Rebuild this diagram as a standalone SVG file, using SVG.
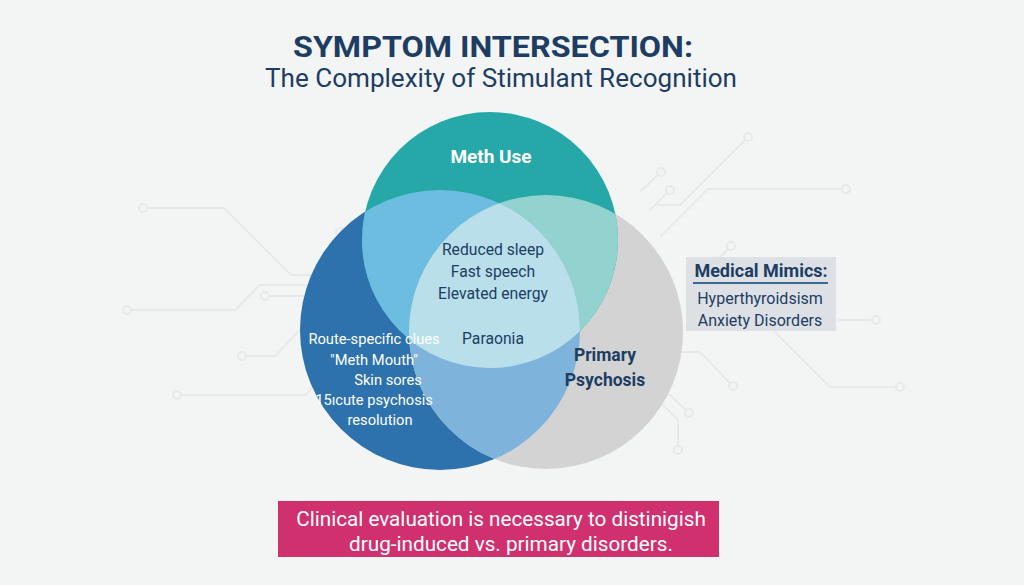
<svg xmlns="http://www.w3.org/2000/svg" width="1024" height="585" viewBox="0 0 1024 585">
<style>
.bg{fill:#f3f4f4}
.circ{fill:none;stroke:#e7e9ea;stroke-width:2}
.dot{fill:#f3f4f4;stroke:#e7e9ea;stroke-width:2}
.f{font-family:Roboto,"Liberation Sans",Arial,sans-serif}
.navy{fill:#1d3d63}
.white{fill:#ffffff}
</style>
<defs>
<clipPath id="cT"><circle cx="490" cy="240" r="128"/></clipPath>
<clipPath id="cL"><circle cx="440" cy="330" r="140"/></clipPath>
</defs>
<rect class="bg" x="0" y="0" width="1024" height="585"/>
<g id="circuits">
<path class="circ" d="M143,208 H224 L291,275 H320"/>
<path class="circ" d="M127,310 H235 L260,285 H312"/>
<path class="circ" d="M265,296 H312"/>
<path class="circ" d="M242,356 H275 L300,330 H312"/>
<path class="circ" d="M177,395 H305 L318,382"/>
<path class="circ" d="M748,137 L680,205 H655"/>
<path class="circ" d="M661,172 L640,192"/>
<path class="circ" d="M670,190 L650,210"/>
<path class="circ" d="M846,189 H708 L660,237"/>
<path class="circ" d="M731,246 L715,262"/>
<path class="circ" d="M876,320 H838"/>
<path class="circ" d="M775,332 L830,387 H900"/>
<path class="circ" d="M733,386 L700,352 H680"/>
<path class="circ" d="M689,413 L670,395 H662"/>
<path class="circ" d="M678,450 V420 L660,402"/>
<circle class="dot" cx="143" cy="208" r="4"/>
<circle class="dot" cx="127" cy="310" r="4"/>
<circle class="dot" cx="265" cy="296" r="4"/>
<circle class="dot" cx="242" cy="356" r="4"/>
<circle class="dot" cx="177" cy="395" r="4"/>
<circle class="dot" cx="340" cy="232" r="4"/>
<circle class="dot" cx="748" cy="137" r="4"/>
<circle class="dot" cx="661" cy="172" r="4"/>
<circle class="dot" cx="670" cy="190" r="4"/>
<circle class="dot" cx="846" cy="189" r="4"/>
<circle class="dot" cx="731" cy="246" r="4"/>
<circle class="dot" cx="876" cy="320" r="4"/>
<circle class="dot" cx="900" cy="387" r="4"/>
<circle class="dot" cx="733" cy="386" r="4"/>
<circle class="dot" cx="689" cy="413" r="4"/>
<circle class="dot" cx="678" cy="450" r="4"/>
</g>
<g id="title">
<text class="f navy" x="493" y="57" font-size="30" font-weight="bold" text-anchor="middle" textLength="400" lengthAdjust="spacingAndGlyphs">SYMPTOM INTERSECTION:</text>
<text class="f navy" x="501" y="87" font-size="25" text-anchor="middle" textLength="472" lengthAdjust="spacingAndGlyphs">The Complexity of Stimulant Recognition</text>
</g>
<g id="venn">
<circle cx="440" cy="330" r="140" fill="#2d72ad"/>
<circle cx="546" cy="332" r="137" fill="#d3d3d3"/>
<circle cx="490" cy="240" r="128" fill="#27a8a8"/>
<circle cx="440" cy="330" r="140" fill="#6cbde0" clip-path="url(#cT)"/>
<circle cx="546" cy="332" r="137" fill="#92d2cf" clip-path="url(#cT)"/>
<circle cx="546" cy="332" r="137" fill="#7eb3db" clip-path="url(#cL)"/>
<g clip-path="url(#cT)"><circle cx="546" cy="332" r="137" fill="#b9e0ea" clip-path="url(#cL)"/></g>
</g>
<g id="meth-use">
<text class="f white" x="491" y="163" font-size="19" font-weight="bold" text-anchor="middle">Meth Use</text>
</g>
<g id="primary-psychosis">
<text class="f navy" x="605" y="361" font-size="17.5" font-weight="bold" text-anchor="middle">Primary</text>
<text class="f navy" x="605" y="386" font-size="17.5" font-weight="bold" text-anchor="middle">Psychosis</text>
</g>
<g id="shared-symptoms">
<text class="f navy" x="493" y="255" font-size="15.7" text-anchor="middle">Reduced sleep</text>
<text class="f navy" x="493" y="277" font-size="15.7" text-anchor="middle">Fast speech</text>
<text class="f navy" x="493" y="299" font-size="15.7" text-anchor="middle">Elevated energy</text>
<text class="f navy" x="493" y="344" font-size="15.7" text-anchor="middle">Paraonia</text>
</g>
<g id="meth-specific">
<text class="f white" x="374" y="344" font-size="14.7" text-anchor="middle">Route-specific clues</text>
<text class="f white" x="374" y="365" font-size="14.7" text-anchor="middle">"Meth Mouth"</text>
<text class="f white" x="388" y="385" font-size="14.7" text-anchor="middle">Skin sores</text>
<text class="f white" x="374" y="405" font-size="14.7" text-anchor="middle">15ıcute psychosis</text>
<text class="f white" x="380" y="425" font-size="14.7" text-anchor="middle">resolution</text>
</g>
<g id="medical-mimics">
<rect x="686" y="257" width="150" height="74" fill="#dde1e5"/>
<text class="f navy" x="761" y="277" font-size="18" font-weight="bold" text-anchor="middle">Medical Mimics:</text>
<line x1="693" y1="283" x2="828" y2="283" stroke="#3d6a95" stroke-width="2"/>
<text class="f navy" x="760" y="304" font-size="16" text-anchor="middle">Hyperthyroidsism</text>
<text class="f navy" x="760" y="326" font-size="16" text-anchor="middle">Anxiety Disorders</text>
</g>
<g id="conclusion">
<rect x="278" y="501" width="441" height="56" fill="#d1306f"/>
<text class="f white" x="501" y="526" font-size="20.7" text-anchor="middle">Clinical evaluation is necessary to distinigish</text>
<text class="f white" x="511" y="551" font-size="20.7" text-anchor="middle">drug-induced vs. primary disorders.</text>
</g>
</svg>
